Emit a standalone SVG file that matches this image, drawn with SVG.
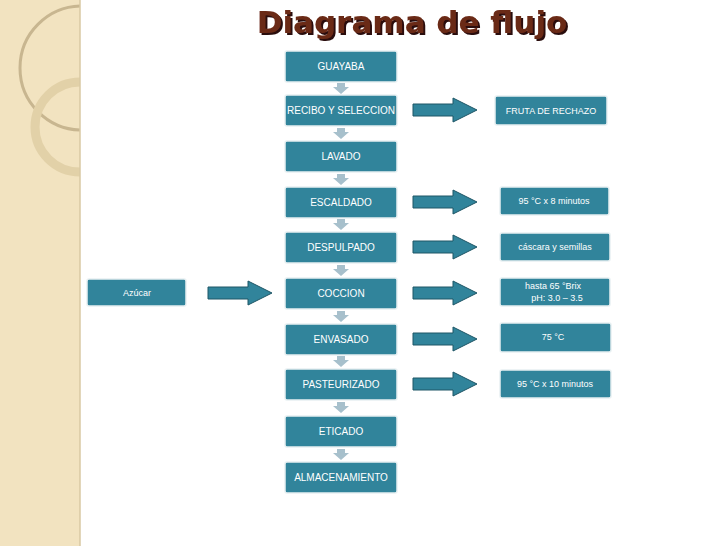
<svg xmlns="http://www.w3.org/2000/svg" width="728" height="546" viewBox="0 0 728 546">
<defs>
<style>
.b{fill:#31849b;stroke:#e8f0f2;stroke-width:1.5}
.t{font-family:"Liberation Sans",Arial,sans-serif;font-size:10px;fill:#fff;text-anchor:middle}
.s{font-size:9px}
.a{fill:#31849b;stroke:#1f5666;stroke-width:1}
.d{fill:#a7c0cc}
.ti{font-family:'DejaVu Sans',sans-serif;font-size:31px;font-weight:bold;text-anchor:middle}
</style>
<filter id="sh" x="-10%" y="-30%" width="120%" height="160%"><feDropShadow dx="2" dy="2" stdDeviation="0.3" flood-color="#2b1008"/></filter>
<clipPath id="cp"><rect width="80" height="546"/></clipPath>
<path id="ar" class="a" d="M0,-6 H40 V-12 L64,0 L40,12 V6 H0 Z"/>
<path id="da" class="d" d="M-4,0 H4 V4 H8 L0,11 L-8,4 H-4 Z"/>
</defs>
<rect width="728" height="546" fill="#fff"/>
<g id="strip">
<rect width="80" height="546" fill="#f2e3c0"/>
<g clip-path="url(#cp)">
<circle cx="82" cy="68" r="62" fill="none" stroke="#c8b690" stroke-width="3"/>
<circle cx="80" cy="127" r="45" fill="none" stroke="#e2d1a8" stroke-width="9"/>
</g>
<line x1="80" y1="0" x2="80" y2="546" stroke="#d9c9a3" stroke-width="1.5"/>
</g>
<text class="ti" x="412" y="33" fill="#6b2a16" filter="url(#sh)">Diagrama de flujo</text>
<g id="connectors">
<use href="#da" x="341" y="83"/><use href="#da" x="341" y="128"/><use href="#da" x="341" y="174"/>
<use href="#da" x="341" y="219"/><use href="#da" x="341" y="265"/><use href="#da" x="341" y="311"/>
<use href="#da" x="341" y="356"/><use href="#da" x="341" y="402"/><use href="#da" x="341" y="449"/>
<use href="#ar" x="413" y="110"/><use href="#ar" x="413" y="202"/><use href="#ar" x="413" y="247"/>
<use href="#ar" x="413" y="293"/><use href="#ar" x="413" y="339"/><use href="#ar" x="413" y="384"/>
<use href="#ar" x="208" y="293"/>
</g>
<g id="n1"><rect class="b" x="285" y="51" width="112" height="31" rx="2"/><text class="t" x="341" y="70">GUAYABA</text></g>
<g id="n2"><rect class="b" x="285" y="95" width="112" height="31" rx="2"/><text class="t" x="341" y="114">RECIBO Y SELECCION</text></g>
<g id="n3"><rect class="b" x="285" y="141" width="112" height="31" rx="2"/><text class="t" x="341" y="160">LAVADO</text></g>
<g id="n4"><rect class="b" x="285" y="187" width="112" height="31" rx="2"/><text class="t" x="341" y="206">ESCALDADO</text></g>
<g id="n5"><rect class="b" x="285" y="232" width="112" height="31" rx="2"/><text class="t" x="341" y="251">DESPULPADO</text></g>
<g id="n6"><rect class="b" x="285" y="278" width="112" height="31" rx="2"/><text class="t" x="341" y="297">COCCION</text></g>
<g id="n7"><rect class="b" x="285" y="324" width="112" height="31" rx="2"/><text class="t" x="341" y="343">ENVASADO</text></g>
<g id="n8"><rect class="b" x="285" y="369" width="112" height="31" rx="2"/><text class="t" x="341" y="388">PASTEURIZADO</text></g>
<g id="n9"><rect class="b" x="285" y="416" width="112" height="31" rx="2"/><text class="t" x="341" y="435">ETICADO</text></g>
<g id="n10"><rect class="b" x="285" y="462" width="112" height="31" rx="2"/><text class="t" x="341" y="481">ALMACENAMIENTO</text></g>
<g id="r1"><rect class="b" x="495" y="96" width="112" height="29" rx="2"/><text class="t s" x="551" y="114">FRUTA DE RECHAZO</text></g>
<g id="r2"><rect class="b" x="500" y="187" width="109" height="28" rx="2"/><text class="t s" x="554" y="204">95 °C x 8 minutos</text></g>
<g id="r3"><rect class="b" x="500" y="233" width="110" height="28" rx="2"/><text class="t s" x="555" y="250">cáscara y semillas</text></g>
<g id="r4"><rect class="b" x="500" y="278" width="110" height="28" rx="2"/><text class="t s" x="553" y="289">hasta 65 °Brix</text><text class="t s" x="557" y="301">pH: 3.0 – 3.5</text></g>
<g id="r5"><rect class="b" x="500" y="323" width="111" height="29" rx="2"/><text class="t s" x="553" y="340">75 °C</text></g>
<g id="r6"><rect class="b" x="500" y="370" width="111" height="28" rx="2"/><text class="t s" x="555" y="387">95 °C x 10 minutos</text></g>
<g id="az"><rect class="b" x="87" y="279" width="99" height="27" rx="2"/><text class="t s" x="137" y="296">Azúcar</text></g>
</svg>
